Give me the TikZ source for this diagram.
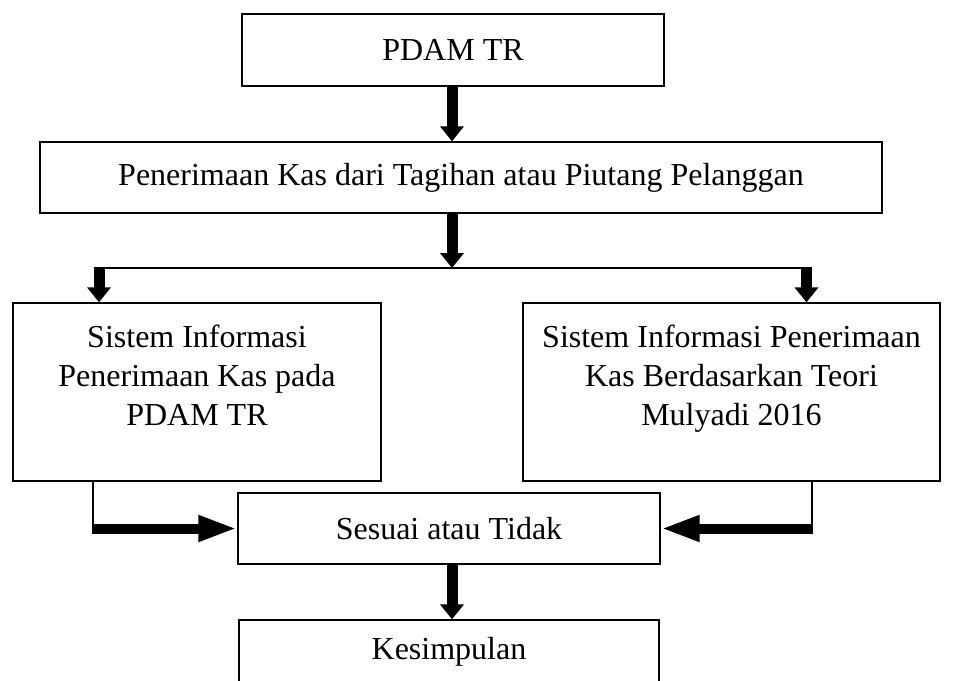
\documentclass[tikz,border=0pt]{standalone}
\usepackage{fontspec}
\setmainfont{Liberation Serif}
\usetikzlibrary{arrows.meta}
\begin{document}
\begin{tikzpicture}[x=1pt,y=-1pt,
  box/.style={draw, line width=1.3pt, rectangle, inner sep=0pt},
  txt/.style={font=\fontsize{32}{39}\selectfont, align=center, inner sep=0pt},
  thinline/.style={line width=1.3pt},
  bigv/.style={line width=11pt, -{Triangle[length=15pt,width=23pt]}},
  bigh/.style={line width=10pt, -{Triangle[length=39pt,width=24pt]}}]
\useasboundingbox (0,0) rectangle (953,680);

\node[box, txt, minimum width=422pt, minimum height=72pt] (b1) at (453,50) {PDAM TR};
\node[box, txt, minimum width=842pt, minimum height=71pt] (b2) at (461,177.5) {Penerimaan Kas dari Tagihan atau Piutang Pelanggan};
\node[box, minimum width=368pt, minimum height=178pt] (bl) at (197,392) {};
\node[txt, anchor=north] (tl) at (197,325) {Sistem Informasi\\Penerimaan Kas pada\\PDAM TR};
\node[box, minimum width=417pt, minimum height=178pt] (br) at (731.5,392) {};
\node[txt, anchor=north] (tr) at (731.5,325) {Sistem Informasi Penerimaan\\Kas Berdasarkan Teori\\Mulyadi 2016};
\node[box, txt, minimum width=422pt, minimum height=71pt] (bs) at (449,528.5) {Sesuai atau Tidak};
\node[box, txt, minimum width=420pt, minimum height=64pt] (bk) at (449,652) {Kesimpulan};

\coordinate (j) at (452,268);
\coordinate (jl) at (93.5,268);
\coordinate (jr) at (812,268);
\coordinate (ll) at (93,533.5);
\coordinate (rr) at (812,533.5);

\draw[bigv] (b1.south -| j) -- (b2.north -| j);
\draw[bigv] (b2.south -| j) -- (j);
\draw[thinline] (jl) -- (jr);
\draw[bigv] ([xshift=5.5pt]jl) -- ([xshift=5.5pt]jl |- bl.north);
\draw[bigv] ([xshift=-5.5pt]jr) -- ([xshift=-5.5pt]jr |- br.north);

\draw[thinline] (bl.south -| ll) -- (ll);
\draw[bigh] (bs.west -| ll) -- (bs.west);
\draw[thinline] (br.south -| rr) -- (rr);
\draw[bigh] (bs.east -| rr) -- (bs.east);

\draw[bigv] (bs.south -| j) -- (bk.north -| j);
\end{tikzpicture}
\end{document}
